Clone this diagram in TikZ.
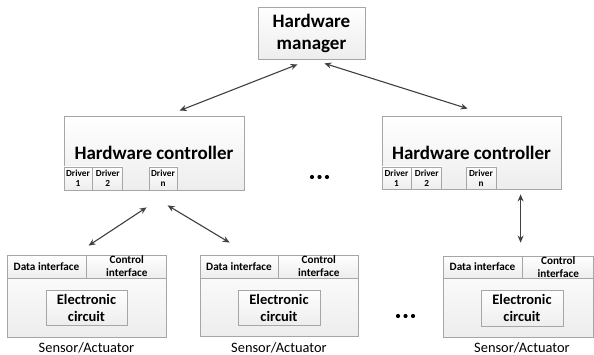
\documentclass[tikz,border=0pt]{standalone}
\usepackage{fontspec}
\setmainfont{Carlito}
\usetikzlibrary{arrows.meta,calc}
\begin{document}
\begin{tikzpicture}[x=1pt,y=-1pt,
  box/.style={draw=gray!70, line width=0.8pt, top color=white, bottom color=gray!14, inner sep=0pt, align=center},
  cell/.style={box, anchor=north west, minimum height=23pt, font=\fontsize{11.2}{13}\selectfont\bfseries},
  drv/.style={box, anchor=south west, minimum height=23pt, font=\fontsize{9.3}{10}\selectfont\bfseries},
  big/.style={font=\fontsize{19}{22}\selectfont\bfseries},
  circ/.style={box, minimum width=81pt, minimum height=35pt, font=\fontsize{14.5}{17}\selectfont\bfseries},
  lbl/.style={font=\fontsize{14.4}{16}\selectfont, inner sep=0pt},
  arr/.style={{Stealth[length=7pt,width=6pt]}-{Stealth[length=7pt,width=6pt]}, draw=black!75, line width=1.1pt},
  dotf/.style={fill=black}]
\useasboundingbox (0,0) rectangle (594,355);

% manager
\node[box, big, minimum width=107pt, minimum height=52pt] (mgr) at (311.5,33) {Hardware\\manager};

% left controller
\node[box, big, minimum width=180pt, minimum height=74pt] (lc) at (154,153) {Hardware controller};
\node[drv, minimum width=28pt] (ld1) at (lc.south west) {Driver\\1};
\node[drv, minimum width=30pt] (ld2) at (ld1.south east) {Driver\\2};
\node[drv, minimum width=28pt] (ldn) at ($(lc.south west)+(85,0)$) {Driver\\n};

% right controller
\node[box, big, minimum width=179pt, minimum height=73pt] (rc) at (471.5,152.5) {Hardware controller};
\node[drv, minimum width=29pt, minimum height=22pt] (rd1) at (rc.south west) {Driver\\1};
\node[drv, minimum width=30pt, minimum height=22pt] (rd2) at (rd1.south east) {Driver\\2};
\node[drv, minimum width=30pt, minimum height=22pt] (rdn) at ($(rc.south west)+(84,0)$) {Driver\\n};

% sensor 1
\node[box, minimum width=159pt, minimum height=82pt] (s1) at (86.5,296) {};
\node[cell, minimum width=79pt] (s1d) at (s1.north west) {Data interface};
\node[cell, minimum width=80pt] (s1c) at (s1d.north east) {Control\\interface};
\node[circ] (s1e) at (86.5,307.5) {Electronic\\circuit};
\node[lbl] (s1l) at (86.5,348) {Sensor/Actuator};

% sensor 2
\node[box, minimum width=158pt, minimum height=81pt] (s2) at (279,295.5) {};
\node[cell, minimum width=78pt] (s2d) at (s2.north west) {Data interface};
\node[cell, minimum width=80pt] (s2c) at (s2d.north east) {Control\\interface};
\node[circ, minimum width=82pt] (s2e) at (279,307.5) {Electronic\\circuit};
\node[lbl] (s2l) at (279,348) {Sensor/Actuator};

% sensor 3
\node[box, minimum width=150pt, minimum height=81pt] (s3) at (518,296.5) {};
\node[cell, minimum width=79pt, minimum height=22pt] (s3d) at (s3.north west) {Data interface};
\node[cell, minimum width=71pt, minimum height=22pt] (s3c) at (s3d.north east) {Control\\interface};
\node[circ, minimum width=82pt, minimum height=36pt] (s3e) at (522,308) {Electronic\\circuit};
\node[lbl] (s3l) at (522,348) {Sensor/Actuator};

% arrows
\draw[arr] ($(mgr.south west)+(40,5)$) -- ($(lc.north west)+(116,-5)$);
\draw[arr] ($(mgr.south east)+(-41,4)$) -- ($(rc.north west)+(86,-7)$);
\draw[arr] ($(lc.south west)+(83,17)$) -- ($(s1.north west)+(82,-9)$);
\draw[arr] ($(lc.south west)+(104,15)$) -- ($(s2.north west)+(30,-12)$);
\draw[arr] ($(rc.south west)+(139,5)$) -- ($(s3.north west)+(78,-13)$);

% dots
\foreach \x in {312,319.5,327} \fill[dotf] (\x,177) circle (2.1pt);
\foreach \x in {398,405.5,413} \fill[dotf] (\x,316) circle (2.1pt);
\end{tikzpicture}
\end{document}
